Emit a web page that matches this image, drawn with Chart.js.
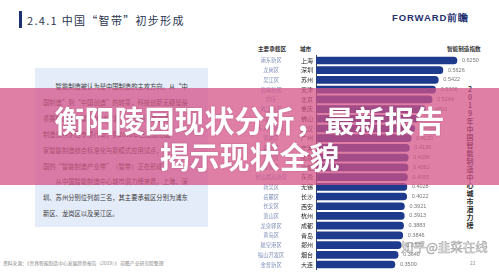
<!DOCTYPE html>
<html>
<head>
<meta charset="utf-8">
<script src="https://cdn.jsdelivr.net/npm/chart.js@4"></script>
<style>
  body { margin: 0; width: 499px; height: 275px; overflow: hidden; background: #fff; font-family: "Noto Sans CJK SC", sans-serif; }
  .abs { position: absolute; white-space: nowrap; }
  #title { left: 27px; top: 12px; font-size: 11px; color: #2b3552; letter-spacing: 1.3px; }
  #titleBar { left: 19px; top: 11px; width: 3px; height: 17px; background: #1c2f6e; }
  #logo { left: 392px; top: 12px; font-size: 9.5px; font-weight: bold; color: #1f3170; font-family: "Liberation Sans", sans-serif; letter-spacing: 0.9px; }
  #box { left: 35px; top: 68px; width: 173px; height: 159px; background: #e5ecf9; }
  #boxText { left: 43px; top: 79px; font-size: 6.3px; color: #3a3a3a; line-height: 15.9px; }
  #source { left: 3px; top: 259px; font-size: 4.8px; color: #888; }
  .head { top: 45px; font-size: 5.6px; color: #333; font-weight: bold; }
  #vert { left: 466px; top: 85px; width: 8px; font-size: 7px; line-height: 8px; color: #2a2a2a; font-weight: bold; text-align: center; white-space: normal; }
  #chartBox { left: 250px; top: 49px; }
  #band { left: 0; top: 88px; width: 499px; height: 97px; background: rgba(212, 82, 135, 0.74); }
  #bandText { left: 0; top: 101px; width: 499px; text-align: center; color: #fff; font-size: 30px; font-weight: bold; line-height: 36px; text-shadow: 0 0 2px rgba(120,30,70,0.35); }
  #mark { left: 401px; top: 237px; font-size: 12.5px; color: transparent; -webkit-text-stroke: 0.5px #9a9a9a; }
  #page { left: 470px; top: 259px; font-size: 5px; color: #999; }
</style>
</head>
<body>
<div class="abs" id="titleBar"></div>
<div class="abs" id="title">2.4.1 中国“智带”初步形成</div>
<div class="abs" id="logo">FORWARD前瞻</div>
<div class="abs" id="box"></div>
<div class="abs" id="boxText">
　　智能制造被认为是中国制造的主攻方向。从“中<br>
国制造”到“中国创造”的转变，科技创新无疑是最<br>
重要的驱动力量。2015年起，工信部开展智能<br>
制造试点示范专项行动，到2018年已遴选出国<br>
家智能制造综合标准化与新模式应用试点，我<br>
国的“智能制造产业带”（智带）正在形成。<br>
　　从中国智能制造中心城市潜力榜来看，上海、深<br>
圳、苏州分别位列前三名，其主要承载区分别为浦东<br>
新区、龙岗区以及吴江区。
</div>
<div class="abs" id="source">资料来源：《世界智能制造中心发展趋势报告（2019）》 前瞻产业研究院整理</div>
<div class="abs head" style="left:258px">主要承载区</div>
<div class="abs head" style="left:300px">城市</div>
<div class="abs head" style="left:447px">智能制造指数</div>
<div class="abs" id="vert">2 0 1 9 年中国智能制造中心城市潜力榜</div>
<div class="abs" id="chartBox"><canvas id="chartBar" width="232" height="227"></canvas></div>
<div class="abs" id="mark">知乎@韭菜在线</div>
<div class="abs" id="page">22</div>
<div class="abs" id="band"></div>
<div class="abs" id="bandText">衡阳陵园现状分析，最新报告<br>揭示现状全貌</div>

<script>
// chart data
var cities = ['上海', '深圳', '苏州', '天津', '北京', '重庆', '佛山', '武汉', '广州', '宁波', '南京', '合肥',
  '东莞', '无锡', '长沙', '西安', '杭州', '成都', '青岛', '郑州', '烟台', '大连'];
var districts = ['浦东新区', '龙岗区', '吴江区', '滨海新区', '亦庄', '两江新区', '顺德区', '东湖高新区', '黄埔区', '鄞州区', '江宁区', '高新区',
  '松山湖高新区', '新吴区', '岳麓区', '长安区', '萧山区', '龙泉驿区', '黄岛区', '航空港区', '福山开发区', '金普新区'];
var scores = [0.6250, 0.5626, 0.5422, 0.5306, 0.5149, 0.4850, 0.4560, 0.4380, 0.4220, 0.4139, 0.4090, 0.4082,
  0.4055, 0.4028, 0.4022, 0.3921, 0.3913, 0.3883, 0.3846, 0.3777, 0.3640, 0.3500];

// value labels at the end of each bar
var valueLabels = {
  id: 'valueLabels',
  afterDatasetsDraw: function (chart) {
    var ctx = chart.ctx;
    var meta = chart.getDatasetMeta(0);
    ctx.save();
    ctx.font = '5.5px "Liberation Sans"';
    ctx.fillStyle = '#777';
    ctx.textBaseline = 'middle';
    meta.data.forEach(function (bar, i) {
      ctx.fillText(scores[i].toFixed(4), bar.x + 5, bar.y);
    });
    ctx.restore();
  }
};

const configBar = {
  type: 'bar',
  data: {
    labels: cities,
    datasets: [
      {
        label: '智能制造指数',
        data: scores,
        backgroundColor: '#1e3a8c',
        barThickness: 7,
        borderRadius: { topRight: 4, bottomRight: 4, topLeft: 2, bottomLeft: 2 },
        borderSkipped: false,
      },
    ],
  },
  options: {
    indexAxis: 'y',
    responsive: false,
    animation: false,
    layout: { padding: 0 },
    plugins: { legend: { display: false }, tooltip: { enabled: false } },
    scales: {
      x: { display: false, min: 0, max: 0.736 },
      y: {
        position: 'left',
        weight: 0,
        grid: { display: false, drawTicks: false },
        border: { display: true, color: '#444', width: 1 },
        ticks: { font: { size: 6, family: 'Noto Sans CJK SC' }, color: '#222', padding: 3, autoSkip: false },
        afterFit: function (scale) { scale.width = 26; },
      },
      y2: {
        type: 'category',
        labels: districts,
        position: 'left',
        weight: 1,
        offset: true,
        grid: { display: false, drawTicks: false },
        border: { display: false },
        ticks: { font: { size: 5.3, family: 'Noto Sans CJK SC' }, color: '#7f8fb8', crossAlign: 'center', autoSkip: false },
        afterFit: function (scale) { scale.width = 40; },
      },
    },
  },
  plugins: [valueLabels],
};

var chartBar = new Chart(document.getElementById('chartBar'), configBar);
</script>
</body>
</html>
